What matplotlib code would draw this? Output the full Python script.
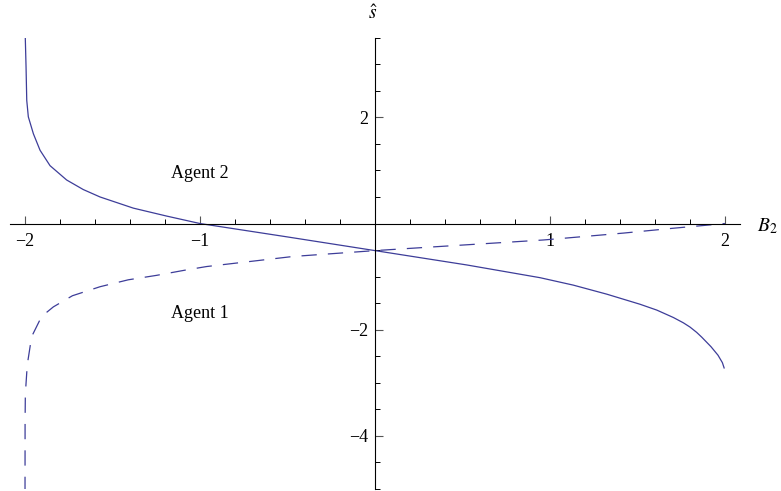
import matplotlib
import matplotlib.pyplot as plt
from matplotlib.ticker import MultipleLocator, FixedLocator

matplotlib.use("Agg")

plt.rcParams["font.family"] = ["Liberation Serif", "DejaVu Serif"]
plt.rcParams["mathtext.fontset"] = "stix"
plt.rcParams["lines.scale_dashes"] = False

# values
agent2_x = [-1.9999, -1.994, -1.990, -1.981, -1.952, -1.914, -1.857, -1.762, -1.667,
            -1.571, -1.381, -1.19, -1.0, -0.505, 0.0, 0.524, 0.943, 1.133, 1.324,
            1.514, 1.61, 1.705, 1.762, 1.80, 1.838, 1.867, 1.92, 1.96, 1.985, 1.995]
agent2_y = [3.7, 2.95, 2.32, 2.01, 1.69, 1.38, 1.09, 0.82, 0.64,
            0.50, 0.29, 0.14, 0.0, -0.25, -0.51, -0.78, -1.02, -1.16, -1.33,
            -1.52, -1.63, -1.77, -1.87, -1.95, -2.05, -2.14, -2.32, -2.48, -2.62, -2.72]

agent1_x = [-1.9999, -1.9995, -1.998, -1.987, -1.962, -1.905, -1.838, -1.729, -1.571,
            -1.41, -1.248, -1.082, -0.962, -0.467, 0.0, 0.333, 0.962, 1.07, 1.42,
            1.70, 2.0]
agent1_y = [-5.2, -3.74, -3.21, -2.66, -2.13, -1.75, -1.57, -1.36, -1.19,
            -1.06, -0.976, -0.876, -0.81, -0.62, -0.51, -0.44, -0.31, -0.28, -0.18,
            -0.09, 0.0]

x_major = [-2, -1, 1, 2]
y_major = [-4, -2, 2]
line_color = "#3d3d99"

fig = plt.figure(figsize=(7.81, 4.91), dpi=100)
ax = fig.add_axes([10 / 781, 2 / 491, 730 / 781, 451.3 / 491])

ax.plot(agent2_x, agent2_y, color=line_color, lw=0.9)
ax.plot(agent1_x, agent1_y, color=line_color, lw=0.9, dashes=(11, 8))

ax.set_xlim(-2.0857, 2.0857)
ax.set_ylim(-5.0, 3.5)

for side in ["top", "right"]:
    ax.spines[side].set_visible(False)
ax.spines["left"].set_position(("data", 0))
ax.spines["bottom"].set_position(("data", 0))
ax.spines["left"].set_linewidth(0.8)
ax.spines["bottom"].set_linewidth(0.8)

ax.xaxis.set_major_locator(FixedLocator(x_major))
ax.xaxis.set_minor_locator(MultipleLocator(0.2))
ax.yaxis.set_major_locator(FixedLocator(y_major))
ax.yaxis.set_minor_locator(MultipleLocator(0.5))
ax.set_xticklabels(["\u22122", "\u22121", "1", "2"])
ax.set_yticklabels(["\u22124", "\u22122", "2"])

ax.tick_params(which="major", direction="in", length=6, width=0.8, labelsize=13,
               color="#555555")
ax.tick_params(which="minor", direction="in", length=3.5, width=0.7)
ax.tick_params(axis="x", which="major", pad=7)
ax.tick_params(axis="y", which="major", pad=5)

ax.text(2.24, -0.05, r"$B_2$", fontsize=14, ha="center", va="center", clip_on=False)
ax.text(-0.01, 3.96, r"$\hat{s}$", fontsize=14, ha="center", va="center", clip_on=False)

ax.text(-1.0, 0.95, "Agent 2", fontsize=13, ha="center", va="center")
ax.text(-1.0, -1.70, "Agent 1", fontsize=13, ha="center", va="center")

fig.savefig("out.png", dpi=100)
